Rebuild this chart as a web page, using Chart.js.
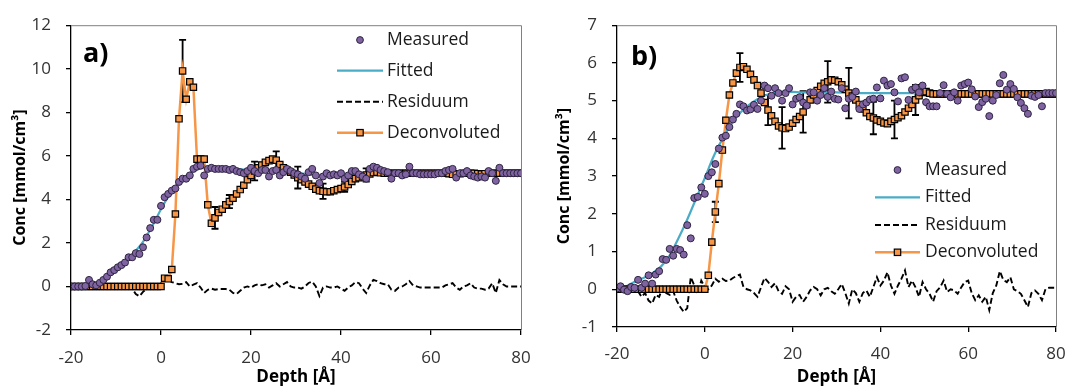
<!DOCTYPE html>
<html>
<head>
<meta charset="utf-8">
<script src="https://cdn.jsdelivr.net/npm/chart.js@4.4.1/dist/chart.umd.min.js"></script>
<style>
  body { margin: 0; background: #fff; }
  .panel { position: absolute; top: 0; width: 534px; height: 387px; }
</style>
</head>
<body>
<div class="panel" style="left:0"><canvas id="chartA" width="534" height="387"></canvas></div>
<div class="panel" style="left:534px"><canvas id="chartB" width="534" height="387"></canvas></div>
<script>
// depth grid of the measured / residuum / deconvoluted profiles [Å]
const depth = [
  -20, -19.2, -18.4, -17.6, -16.8, -16, -15.2, -14.4, -13.6, -12.8,
  -12, -11.2, -10.4, -9.6, -8.8, -8, -7.2, -6.4, -5.6, -4.8,
  -4, -3.2, -2.4, -1.6, -0.8, 0, 0.8, 1.6, 2.4, 3.2,
  4, 4.8, 5.6, 6.4, 7.2, 8, 8.8, 9.6, 10.4, 11.2,
  12, 12.8, 13.6, 14.4, 15.2, 16, 16.8, 17.6, 18.4, 19.2,
  20, 20.8, 21.6, 22.4, 23.2, 24, 24.8, 25.6, 26.4, 27.2,
  28, 28.8, 29.6, 30.4, 31.2, 32, 32.8, 33.6, 34.4, 35.2,
  36, 36.8, 37.6, 38.4, 39.2, 40, 40.8, 41.6, 42.4, 43.2,
  44, 44.8, 45.6, 46.4, 47.2, 48, 48.8, 49.6, 50.4, 51.2,
  52, 52.8, 53.6, 54.4, 55.2, 56, 56.8, 57.6, 58.4, 59.2,
  60, 60.8, 61.6, 62.4, 63.2, 64, 64.8, 65.6, 66.4, 67.2,
  68, 68.8, 69.6, 70.4, 71.2, 72, 72.8, 73.6, 74.4, 75.2,
  76, 76.8, 77.6, 78.4, 79.2, 80
];
// depth grid of the fitted curves
const fitDepth = [
  -20, -18, -16, -14, -12, -10, -8, -6, -4, -2,
  0, 2, 4, 6, 8, 10, 12, 14, 16, 18,
  20, 22, 24, 26, 28, 30, 32, 34, 36, 38,
  40, 42, 44, 46, 48, 50, 52, 54, 56, 58,
  60, 62, 64, 66, 68, 70, 72, 74, 76, 78, 80
];

// ---- panel a) ----
const measuredA = [
  0, 0, 0, 0, 0.02, 0.3, 0.1, 0.05, 0.17, 0.3,
  0.45, 0.65, 0.75, 0.88, 0.98, 1.1, 1.34, 1.34, 1.53, 1.49,
  1.8, 2.25, 2.68, 3.06, 3.06, 3.7, 4.1, 4.25, 4.4, 4.5,
  4.8, 4.95, 4.95, 5.1, 5.4, 5.5, 5.55, 5.1, 5.4, 5.45,
  5.4, 5.4, 5.4, 5.4, 5.35, 5.4, 5.3, 5.25, 5.2, 5.3,
  5.45, 5.3, 5.2, 5.35, 5.35, 5.05, 5.3, 5.35, 5.1, 5.25,
  5.4, 5.3, 5.2, 5.15, 5.05, 4.95, 5.25, 5.4, 5.1, 4.75,
  5.05, 5.2, 5.1, 5.15, 5.1, 5.2, 4.95, 5.1, 5.3, 5.3,
  5.15, 5.05, 4.95, 5.4, 5.5, 5.45, 5.35, 5.3, 5.25, 4.95,
  5.2, 5.2, 5.1, 5.15, 5.5, 5.2, 5.2, 5.15, 5.15, 5.15,
  5.15, 5.15, 5.2, 5.2, 5.3, 5.35, 5.4, 5.0, 5.2, 5.2,
  5.3, 5.1, 5.05, 5.0, 5.05, 5.0, 5.3, 5.2, 4.85, 5.45,
  5.2, 5.2, 5.2, 5.2, 5.2, 5.2
];
const fittedA = [
  0, 0.02, 0.08, 0.22, 0.42, 0.72, 1.1, 1.55, 2.05, 2.75,
  3.55, 4.25, 4.8, 5.15, 5.38, 5.45, 5.46, 5.45, 5.42, 5.38,
  5.33, 5.32, 5.32, 5.3, 5.27, 5.22, 5.17, 5.12, 5.1, 5.1,
  5.12, 5.15, 5.18, 5.22, 5.23, 5.22, 5.2, 5.2, 5.2, 5.2,
  5.2, 5.2, 5.2, 5.2, 5.2, 5.2, 5.2, 5.2, 5.2, 5.2, 5.2
];
const residA = [
  0, 0, 0, 0, 0.02, 0.2, 0, -0.1, -0.05, 0.02,
  0.05, 0.1, 0.02, -0.02, -0.05, 0, 0.05, -0.1, -0.35, -0.45,
  -0.25, -0.1, -0.05, 0.1, -0.05, 0.15, 0.25, 0.3, 0.2, 0.15,
  0.1, 0.12, 0.2, 0, 0.08, 0.15, -0.05, -0.3, -0.15, -0.1,
  -0.15, -0.12, -0.12, -0.12, -0.15, -0.3, -0.35, -0.2, -0.05, 0,
  -0.05, 0.05, 0.1, 0.05, 0.1, -0.05, 0.05, 0.15, 0, 0.1,
  0.2, 0, -0.05, -0.05, -0.1, 0, 0.16, 0.22, 0, -0.44,
  -0.05, 0, -0.05, -0.05, 0, -0.1, -0.2, -0.05, 0.05, 0.2,
  0.15, -0.1, -0.3, 0.05, 0.3, 0.25, 0.15, 0.1, 0.1, -0.15,
  -0.2, -0.05, 0, 0.1, 0.25, 0.05, 0, -0.05, -0.05, -0.05,
  -0.05, -0.05, -0.05, -0.05, 0.05, 0.1, 0.15, -0.05, -0.15, 0,
  0.05, 0.15, -0.05, -0.1, -0.1, -0.15, -0.1, 0.15, -0.3, 0.3,
  0.1, 0, 0, 0, 0, 0
];
const deconA = [
  0, 0, 0, 0, 0, 0, 0, 0, 0, 0,
  0, 0, 0, 0, 0, 0, 0, 0, 0, 0,
  0, 0, 0, 0, 0, 0, 0.38, 0.35, 0.78, 3.33,
  7.7, 9.9, 8.6, 9.4, 9.15, 5.85, 5.85, 5.85, 3.75, 2.9,
  3.15, 3.4, 3.55, 3.75, 3.9, 4.05, 4.25, 4.45, 4.65, 4.9,
  5.1, 5.3, 5.45, 5.58, 5.7, 5.78, 5.85, 5.8, 5.6, 5.45,
  5.35, 5.25, 5.12, 5.0, 4.9, 4.8, 4.7, 4.6, 4.47, 4.4,
  4.37, 4.35, 4.35, 4.4, 4.45, 4.5, 4.57, 4.68, 4.82, 4.95,
  5.0, 5.05, 5.12, 5.17, 5.23, 5.25, 5.22, 5.2, 5.2, 5.2,
  5.2, 5.2, 5.2, 5.2, 5.2, 5.2, 5.2, 5.2, 5.2, 5.2,
  5.2, 5.2, 5.2, 5.2, 5.2, 5.18, 5.15, 5.15, 5.18, 5.2,
  5.2, 5.2, 5.2, 5.18, 5.16, 5.18, 5.2, 5.2, 5.2, 5.2,
  5.2, 5.2, 5.2, 5.2, 5.2, 5.2
];
// error bars on the deconvoluted profile: depth and half-width
const errDepthA = [4.8, 12, 15.2, 20.8, 25.6, 30.4, 36, 40.8, 45.6];
const errSizeA = [1.43, 0.5, 0.3, 0.43, 0.4, 0.5, 0.35, 0.23, 0.3];

// ---- panel b) ----
const measuredB = [
  0.02, 0.08, -0.01, -0.05, 0.06, 0.04, 0.25, 0.04, 0.15, 0.37,
  0.15, 0.39, 0.48, 0.8, 0.78, 1.07, 0.89, 1.07, 1.04, 0.92,
  1.7, 1.35, 2.42, 2.45, 2.7, 2.53, 3.0, 3.1, 3.32, 3.73,
  4.02, 4.07, 4.3, 4.5, 4.65, 4.9, 4.85, 4.74, 4.77, 4.89,
  4.78, 5.0, 5.4, 5.33, 5.13, 5.33, 5.2, 5.0, 5.2, 5.33,
  4.9, 5.05, 5.09, 4.95, 4.87, 5.22, 5.22, 5.0, 5.15, 5.33,
  5.1, 5.24, 5.05, 5.03, 5.33, 4.8, 5.05, 5.1, 5.24, 4.78,
  4.9, 4.95, 5.03, 5.05, 5.35, 5.06, 5.53, 5.4, 5.44, 5.22,
  4.98, 5.59, 5.62, 5.02, 5.29, 5.35, 5.22, 5.4, 4.96, 4.85,
  4.85, 4.85, 5.2, 5.41, 5.18, 5.09, 5.22, 5.0, 5.4, 5.44,
  5.48, 5.3, 5.11, 4.83, 4.96, 5.05, 4.59, 5.0, 5.15, 5.46,
  5.68, 5.29, 5.44, 5.31, 5.09, 4.94, 4.8, 4.65, 5.13, 5.1,
  5.15, 4.85, 5.2, 5.2, 5.2, 5.2
];
const fittedB = [
  0, 0.07, 0.2, 0.3, 0.42, 0.6, 0.9, 1.35, 1.85, 2.4,
  2.95, 3.52, 3.98, 4.38, 4.67, 4.88, 5.04, 5.15, 5.21, 5.23,
  5.23, 5.22, 5.22, 5.22, 5.22, 5.22, 5.21, 5.2, 5.2, 5.2,
  5.2, 5.2, 5.2, 5.2, 5.2, 5.2, 5.2, 5.2, 5.2, 5.2,
  5.19, 5.19, 5.19, 5.19, 5.19, 5.19, 5.19, 5.19, 5.19, 5.19, 5.19
];
const residB = [
  0, 0.05, -0.05, -0.1, 0, 0.05, -0.05, -0.2, -0.1, -0.3,
  -0.38, -0.15, -0.2, 0.05, -0.1, -0.15, -0.05, -0.3, -0.47, -0.6,
  -0.5, 0.32, 0.1, -0.12, 0.23, 0.06, 0, 0.1, 0.28, 0.2,
  0.28, 0.22, 0.23, 0.3, 0.35, 0.39, 0.06, 0, -0.03, -0.1,
  -0.2, 0.05, 0.3, 0.2, 0.06, 0.16, -0.05, -0.12, 0.08, 0,
  -0.33, -0.2, -0.15, -0.33, -0.2, -0.03, 0.06, 0, -0.16, 0,
  0.04, -0.05, -0.12, 0, 0.14, -0.1, -0.38, 0, -0.1, -0.33,
  -0.1, -0.03, -0.2, 0.06, 0.32, 0.1, 0.23, 0.45, 0.1, -0.12,
  0.1, 0.28, 0.5, 0.06, 0.23, 0.05, -0.2, 0.19, 0, -0.12,
  -0.33, -0.05, 0.05, 0.23, -0.07, 0, -0.03, -0.12, 0.05, 0.19,
  0.23, -0.1, -0.29, -0.16, -0.33, -0.2, -0.55, -0.1, 0.1, 0.48,
  0.25, 0.19, 0.32, 0, -0.05, -0.12, -0.29, -0.47, -0.1, -0.03,
  -0.12, -0.29, 0, 0.04, 0.04, 0.04
];
const deconB = [
  0, 0, 0, 0, 0, 0, 0, 0, 0, 0,
  0, 0, 0, 0, 0, 0, 0, 0, 0, 0,
  0, 0, 0, 0, 0, 0, 0.37, 1.25, 2.05, 2.8,
  3.69, 4.48, 5.15, 5.47, 5.73, 5.88, 5.9, 5.83, 5.7, 5.55,
  5.4, 5.2, 4.95, 4.75, 4.6, 4.45, 4.33, 4.28, 4.26, 4.3,
  4.4, 4.5, 4.58, 4.7, 4.9, 5.02, 5.15, 5.27, 5.38, 5.46,
  5.5, 5.55, 5.54, 5.5, 5.42, 5.3, 5.2, 5.12, 5.02, 4.9,
  4.78, 4.68, 4.58, 4.54, 4.49, 4.45, 4.41, 4.39, 4.45, 4.5,
  4.55, 4.6, 4.7, 4.8, 4.9, 5.02, 5.13, 5.22, 5.24, 5.2,
  5.18, 5.18, 5.18, 5.18, 5.18, 5.18, 5.18, 5.18, 5.18, 5.18,
  5.18, 5.18, 5.18, 5.18, 5.18, 5.18, 5.18, 5.18, 5.18, 5.18,
  5.18, 5.18, 5.18, 5.18, 5.18, 5.18, 5.18, 5.18, 5.18, 5.18,
  5.18, 5.18, 5.18, 5.18, 5.18, 5.18
];
const errDepthB = [2.4, 8, 14.4, 17.6, 22.4, 28, 32.8, 38.4, 43.2, 48];
const errSizeB = [0.27, 0.38, 0.4, 0.55, 0.55, 0.55, 0.67, 0.43, 0.5, 0.4];

const legendLabels = ['Measured', 'Fitted', 'Residuum', 'Deconvoluted'];

const PURPLE = '#8064A2';
const PURPLE_EDGE = '#2e2442';
const CYAN = '#4BACC6';
const ORANGE = '#F79646';
const FONT = '"Open Sans", "DejaVu Sans", sans-serif';

function pts(xs, ys) {
  return xs.map((x, i) => ({ x: x, y: ys[i] }));
}

// frame, error bars, panel letter and the in-plot legend
const panelDeco = {
  id: 'panelDeco',
  beforeDatasetsDraw(chart, args, o) {
    const { ctx, chartArea: a, scales: { x, y } } = chart;
    ctx.save();
    ctx.strokeStyle = '#808080';
    ctx.lineWidth = 1;
    ctx.beginPath();
    ctx.moveTo(a.left, a.top + 0.5);
    ctx.lineTo(a.right + 0.5, a.top + 0.5);
    ctx.lineTo(a.right + 0.5, a.bottom);
    ctx.stroke();

    ctx.strokeStyle = '#000';
    ctx.lineWidth = 1.8;
    o.errDepth.forEach((d, k) => {
      const v = o.decon[depth.indexOf(d)];
      const px = x.getPixelForValue(d);
      const lo = y.getPixelForValue(v - o.errSize[k]);
      const hi = y.getPixelForValue(v + o.errSize[k]);
      ctx.beginPath();
      ctx.moveTo(px, lo); ctx.lineTo(px, hi);
      ctx.moveTo(px - 3.5, lo); ctx.lineTo(px + 3.5, lo);
      ctx.moveTo(px - 3.5, hi); ctx.lineTo(px + 3.5, hi);
      ctx.stroke();
    });
    ctx.restore();
  },
  afterDraw(chart, args, o) {
    const ctx = chart.ctx;
    const ds = chart.data.datasets;
    ctx.save();
    ctx.fillStyle = '#000';
    ctx.font = 'bold 27px ' + FONT;
    ctx.textBaseline = 'alphabetic';
    ctx.fillText(o.letter, o.letterX, o.letterY);

    const L = o.legend;
    const mid = (L.x0 + L.x1) / 2;
    ctx.font = '17.5px ' + FONT;
    ctx.textBaseline = 'middle';
    ctx.fillStyle = '#1a1a1a';
    legendLabels.forEach((t, i) => {
      const yy = L.rows[i];
      ctx.save();
      if (i === 0) {
        ctx.beginPath();
        ctx.arc(mid, yy, 3.4, 0, Math.PI * 2);
        ctx.fillStyle = ds[0].backgroundColor;
        ctx.fill();
        ctx.lineWidth = 1;
        ctx.strokeStyle = ds[0].borderColor;
        ctx.stroke();
      } else {
        const d = ds[i];
        ctx.strokeStyle = d.borderColor;
        ctx.lineWidth = d.borderWidth;
        ctx.setLineDash(d.borderDash || []);
        ctx.beginPath();
        ctx.moveTo(L.x0, yy); ctx.lineTo(L.x1, yy);
        ctx.stroke();
        if (i === 3) {
          ctx.setLineDash([]);
          ctx.fillStyle = ORANGE;
          ctx.fillRect(mid - 3.2, yy - 3.2, 6.4, 6.4);
          ctx.lineWidth = 1.2;
          ctx.strokeStyle = '#000';
          ctx.strokeRect(mid - 3.2, yy - 3.2, 6.4, 6.4);
        }
      }
      ctx.restore();
      ctx.fillText(t, L.tx, yy);
    });
    ctx.restore();
  }
};

function buildChart(canvasId, p) {
  const tickFont = { family: FONT, size: 17 };
  const titleFont = { family: FONT, size: 16, weight: 'bold' };
  return new Chart(document.getElementById(canvasId), {
    type: 'scatter',
    data: {
      datasets: [
        { label: 'Measured', data: pts(depth, p.measured), showLine: false,
          pointStyle: 'circle', pointRadius: 3.5, pointHoverRadius: 3.5,
          backgroundColor: PURPLE, borderColor: PURPLE_EDGE, borderWidth: 1, order: 0 },
        { label: 'Fitted', data: pts(fitDepth, p.fitted), showLine: true,
          borderColor: CYAN, borderWidth: 2.2, pointRadius: 0,
          cubicInterpolationMode: 'monotone', order: 2 },
        { label: 'Residuum', data: pts(depth, p.resid), showLine: true,
          borderColor: '#000', borderWidth: 1.9, borderDash: [6, 3], pointRadius: 0, order: 3 },
        { label: 'Deconvoluted', data: pts(depth, p.decon), showLine: true,
          borderColor: ORANGE, borderWidth: 2.5, pointStyle: 'rect', pointRadius: 4.5,
          pointBackgroundColor: ORANGE, pointBorderColor: '#000', pointBorderWidth: 1.2, order: 1 }
      ]
    },
    options: {
      responsive: false,
      animation: false,
      events: [],
      layout: { padding: { top: 22, right: p.padRight, left: 0, bottom: 0 } },
      plugins: {
        legend: { display: false },
        tooltip: { enabled: false },
        panelDeco: {
          letter: p.letter, letterX: p.letterX, letterY: p.letterY, legend: p.legend,
          errDepth: p.errDepth, errSize: p.errSize, decon: p.decon
        }
      },
      scales: {
        x: {
          type: 'linear', min: -20, max: 80,
          ticks: { stepSize: 20, padding: p.xTickPad, font: tickFont, color: '#333' },
          grid: { display: true, drawOnChartArea: false, drawTicks: true, tickLength: 5, color: '#000', lineWidth: 1.3 },
          border: { display: true, color: '#000', width: 1.3 },
          title: { display: true, text: 'Depth [Å]', font: { family: FONT, size: 17, weight: 'bold' },
                   color: '#000', padding: 0 },
          afterFit: s => { s.height = p.xAxisHeight; s.paddingLeft = 0; s.paddingRight = 0; }
        },
        y: {
          type: 'linear', min: p.yMin, max: p.yMax,
          ticks: { stepSize: p.yStep, padding: 15, font: tickFont, color: '#333' },
          grid: { display: true, drawOnChartArea: false, drawTicks: true, tickLength: 5, color: '#000', lineWidth: 1.3 },
          border: { display: true, color: '#000', width: 1.3 },
          title: { display: true, text: 'Conc [mmol/cm³]', font: titleFont, color: '#000',
                   padding: { top: p.yTitlePad, bottom: 0 } },
          afterFit: s => { s.width = p.yAxisWidth; }
        }
      }
    },
    plugins: [panelDeco]
  });
}

buildChart('chartA', {
  measured: measuredA, fitted: fittedA, resid: residA, decon: deconA,
  errDepth: errDepthA, errSize: errSizeA,
  yMin: -2, yMax: 12, yStep: 2, xTickPad: 13,
  padRight: 13, yAxisWidth: 71, xAxisHeight: 57, yTitlePad: 11,
  letter: 'a)', letterX: 83, letterY: 62,
  legend: { x0: 337, x1: 383, tx: 387, rows: [40, 70.7, 101.7, 132.7] }
});

buildChart('chartB', {
  measured: measuredB, fitted: fittedB, resid: residB, decon: deconB,
  errDepth: errDepthB, errSize: errSizeB,
  yMin: -1, yMax: 7, yStep: 1, xTickPad: 12,
  padRight: 12, yAxisWidth: 83, xAxisHeight: 60, yTitlePad: 21,
  letter: 'b)', letterX: 97, letterY: 65,
  legend: { x0: 341, x1: 386, tx: 391, rows: [170, 197.3, 225, 252.3] }
});
</script>
</body>
</html>
